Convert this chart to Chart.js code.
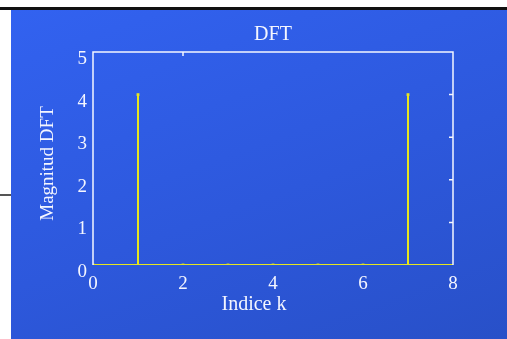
<!DOCTYPE html>
<html>
<head>
<meta charset="utf-8">
<script src="https://cdn.jsdelivr.net/npm/chart.js@4"></script>
<style>
  html, body { margin: 0; padding: 0; background: #fff; }
  #wrap { position: relative; width: 507px; height: 339px; overflow: hidden; }
  #topline { position: absolute; left: 0; top: 7px; width: 507px; height: 3px; background: #111; }
  #sideline { position: absolute; left: 0; top: 194px; width: 11px; height: 2px; background: #555; }
  #panel { position: absolute; left: 11px; top: 10px; width: 496px; height: 329px;
           background: linear-gradient(160deg, #3262f0 0%, #2d58dc 55%, #2850c8 100%); }
  canvas { position: absolute; left: 0; top: 0; }
</style>
</head>
<body>
<div id="wrap">
  <div id="topline"></div>
  <div id="sideline"></div>
  <div id="panel"></div>
  <canvas id="myChart" width="507" height="339"></canvas>
</div>
<script>
var kValues = [0, 1, 2, 3, 4, 5, 6, 7];
var magnitudes = [0.0, 4.0, 0.0, 0.0, 0.0, 0.0, 0.0, 4.0];
var xTicks = [0, 2, 4, 6, 8];
var yTicks = [0, 1, 2, 3, 4, 5];
var rightTicks = [1, 2, 3, 4];
var topTicks = [2];
var xTitle = 'Indice k';
var yTitle = 'Magnitud DFT';

const yellow = '#e6e61e';
const white = '#f4f6ff';
const serif = '"Liberation Serif", "Times New Roman", serif';

// stems, one small line per k
var datasets = [];
datasets.push({
    data: [{x: xTicks[0], y: 0}, {x: xTicks[xTicks.length - 1], y: 0}],
    borderColor: yellow, borderWidth: 2, pointRadius: 0, showLine: true
});
for (let i = 0; i < kValues.length; i++) {
    datasets.push({
        data: [{x: kValues[i], y: 0}, {x: kValues[i], y: magnitudes[i]}],
        borderColor: yellow, borderWidth: 2, pointRadius: 0, showLine: true
    });
}
datasets.push({
    data: kValues.map((k, i) => ({x: k, y: magnitudes[i]})),
    showLine: false, pointStyle: 'rect', pointRadius: 2,
    backgroundColor: yellow, borderColor: yellow, borderWidth: 0
});

// box, inward ticks on top/right, and the axis titles (slightly off-centre like the original)
const boxPlugin = {
    id: 'box',
    afterDatasetsDraw(chart) {
        const {ctx, chartArea: a, scales} = chart;
        ctx.save();
        ctx.strokeStyle = white;
        ctx.lineWidth = 1.5;
        ctx.beginPath();
        ctx.moveTo(a.left, a.bottom);
        ctx.lineTo(a.left, a.top);
        ctx.lineTo(a.right, a.top);
        ctx.lineTo(a.right, a.bottom);
        ctx.stroke();
        ctx.beginPath();
        rightTicks.forEach(v => {
            const y = scales.y.getPixelForValue(v);
            ctx.moveTo(a.right, y);
            ctx.lineTo(a.right - 4, y);
        });
        topTicks.forEach(v => {
            const x = scales.x.getPixelForValue(v);
            ctx.moveTo(x, a.top);
            ctx.lineTo(x, a.top + 4);
        });
        ctx.stroke();

        ctx.fillStyle = white;
        ctx.textAlign = 'center';
        ctx.textBaseline = 'middle';
        ctx.font = '20px ' + serif;
        ctx.fillText(xTitle, (a.left + a.right) / 2 - 19, a.bottom + 40);
        ctx.translate(a.left - 45, (a.top + a.bottom) / 2 + 5);
        ctx.rotate(-Math.PI / 2);
        ctx.font = '19px ' + serif;
        ctx.fillText(yTitle, 0, 0);
        ctx.restore();
    }
};

const config = {
    type: 'scatter',
    data: { datasets: datasets },
    options: {
        responsive: false,
        animation: false,
        layout: { padding: { left: 11, top: 10, right: 54, bottom: 23 } },
        plugins: {
            legend: { display: false },
            tooltip: { enabled: false },
            title: {
                display: true,
                fullSize: false,
                text: 'DFT',
                color: white,
                font: { family: serif, size: 20, weight: 'normal' },
                padding: { top: 13, bottom: 5 }
            }
        },
        scales: {
            x: {
                type: 'linear',
                min: 0, max: 8,
                afterBuildTicks: s => { s.ticks = xTicks.map(v => ({value: v})); },
                afterFit: s => { s.height = 51; },
                grid: { display: false, drawTicks: false },
                border: { display: false },
                ticks: { color: white, padding: 8, font: { family: serif, size: 19 } },
                title: { display: false }
            },
            y: {
                type: 'linear',
                min: 0, max: 5,
                afterBuildTicks: s => { s.ticks = yTicks.map(v => ({value: v})); },
                afterFit: s => { s.width = 82; },
                grid: { display: false, drawTicks: false },
                border: { display: false },
                ticks: { color: white, padding: 6, labelOffset: 7, font: { family: serif, size: 19 } },
                title: { display: false }
            }
        }
    },
    plugins: [boxPlugin]
};

const myChart = new Chart(document.getElementById('myChart'), config);
</script>
</body>
</html>
